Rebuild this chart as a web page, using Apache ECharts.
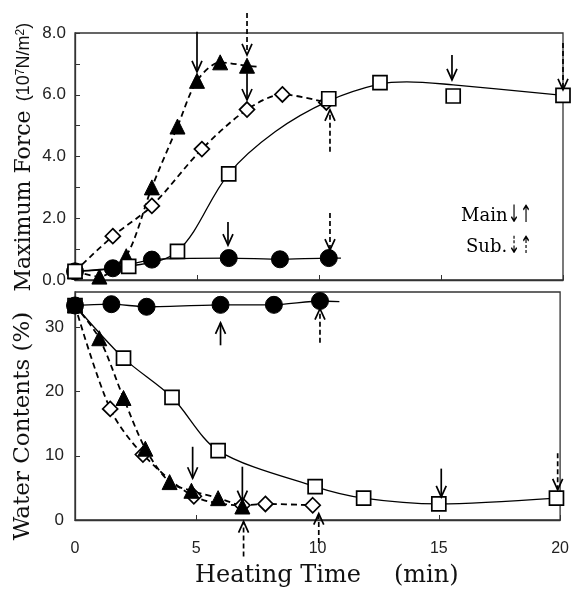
<!DOCTYPE html>
<html>
<head>
<meta charset="utf-8">
<script src="https://cdn.jsdelivr.net/npm/echarts@6/dist/echarts.min.js"></script>
<style>
  html, body { margin: 0; background: #fff; }
  #chart { width: 572px; height: 592px; }
</style>
</head>
<body>
<div id="chart"></div>
<script>
// Top panel: maximum force (10^7 N/m^2) against heating time (min)
const forceCircle = [[0, 0.28], [1.55, 0.38], [3.15, 0.66], [6.3, 0.71], [8.4, 0.67], [10.4, 0.71]];
const forceCircleEnd = [10.9, 0.71];
const forceSquare = [[0, 0.28], [2.2, 0.44], [4.2, 0.93], [6.3, 3.44], [10.4, 5.87], [12.5, 6.39], [15.5, 5.96], [20, 5.98]];
// the drawn fit for the squares (passes above the 15.5 min point)
const forceSquareCurve = [[0, 0.28], [2.2, 0.44], [4.2, 0.93], [6.3, 3.44], [8.2, 4.8], [10.4, 5.8], [12.5, 6.35], [13.6, 6.42], [15.5, 6.32], [20, 5.98]];
const forceTriangle = [[0, 0.28], [1.0, 0.11], [2.1, 0.77], [3.15, 3.0], [4.2, 4.97], [5.0, 6.45], [5.95, 7.05], [7.05, 6.94]];
const forceTriangleEnd = [7.6, 6.9];
const forceDiamond = [[0, 0.28], [1.55, 1.42], [3.15, 2.4], [5.2, 4.24], [7.05, 5.52], [8.5, 6.01], [10.3, 5.75]];

// Bottom panel: water contents (%)
const waterCircle = [[0, 33.4], [1.5, 33.6], [2.95, 33.2], [6.0, 33.5], [8.2, 33.5], [10.1, 34.1]];
const waterCircleEnd = [10.9, 34.0];
const waterSquare = [[0, 33.4], [2.0, 25.2], [4.0, 19.1], [5.9, 10.8], [9.9, 5.2], [11.9, 3.4], [15.0, 2.5], [19.85, 3.4]];
const waterTriangle = [[0, 33.4], [1.0, 28.3], [2.0, 19.0], [2.9, 11.1], [3.9, 5.9], [4.8, 4.55], [5.9, 3.4], [6.9, 2.1]];
const waterDiamond = [[0, 33.4], [1.45, 17.3], [2.8, 10.2], [4.9, 3.7], [6.9, 2.3], [7.85, 2.5], [9.8, 2.3]];

// Arrows: [time, from, to, dashed(1) / solid(0)]
const forceArrows = [
  [5.0, 8.04, 6.74, 0], [7.05, 8.65, 7.29, 1], [7.05, 6.7, 5.83, 0], [6.27, 1.88, 1.13, 0],
  [15.45, 7.29, 6.48, 0], [20, 7.68, 6.16, 1], [10.45, 4.15, 5.51, 1], [10.45, 2.17, 0.97, 1]
];
const waterArrows = [
  [6.0, 27.2, 30.7, 0], [10.1, 27.6, 32.9, 1], [4.85, 11.4, 6.5, 0], [6.9, 8.3, 2.85, 0],
  [6.95, -5.7, -0.26, 1], [10.05, -3.6, 1.0, 1], [15.1, 8.0, 3.6, 0], [19.9, 10.4, 4.7, 1]
];

const xTicks = [0, 5, 10, 15, 20];

const SERIF = 'DejaVu Serif';
const SANS = 'Liberation Sans';

function withEnd(points, end) {
  return points.concat([{ value: end, symbol: 'none' }]);
}

function renderArrow(params, api) {
  const t = api.value(0);
  const p1 = api.coord([t, api.value(1)]);
  const p2 = api.coord([t, api.value(2)]);
  const dashed = api.value(3) === 1;
  const dir = p2[1] > p1[1] ? 1 : -1;
  const head = 11, half = 5;
  return {
    type: 'group',
    children: [
      {
        type: 'line',
        shape: { x1: p1[0], y1: p1[1], x2: p2[0], y2: p2[1] },
        style: { stroke: '#000', lineWidth: 1.7, lineDash: dashed ? [5, 3] : null }
      },
      {
        type: 'polyline',
        shape: { points: [[p2[0] - half, p2[1] - dir * head], [p2[0], p2[1]], [p2[0] + half, p2[1] - dir * head]] },
        style: { stroke: '#000', lineWidth: 1.7, fill: null }
      }
    ]
  };
}

function markerSeries(idx, data, symbol, size, filled, dashed, extra) {
  return Object.assign({
    type: 'line',
    xAxisIndex: idx,
    yAxisIndex: idx,
    data: data,
    symbol: symbol,
    symbolSize: size,
    smooth: 0.3,
    showAllSymbol: true,
    clip: false,
    itemStyle: filled
      ? { color: '#000', borderColor: '#000', borderWidth: 1 }
      : { color: '#fff', borderColor: '#000', borderWidth: 1.7 },
    lineStyle: { color: '#000', width: dashed ? 1.8 : 1.3, type: dashed ? [6, 4] : 'solid' },
    animation: false
  }, extra || {});
}

const axisCommon = {
  type: 'value',
  axisLine: { show: true, lineStyle: { color: '#333', width: 1.3 } },
  axisTick: { show: true, inside: true, length: 5, lineStyle: { color: '#333' } },
  splitLine: { show: false }
};

const chart = echarts.init(document.getElementById('chart'), null, { renderer: 'canvas' });

chart.setOption({
  backgroundColor: '#fff',
  animation: false,
  grid: [
    { left: 75, right: 9, top: 33, height: 247, show: true, borderColor: '#333', borderWidth: 1.3 },
    { left: 75, right: 9, top: 292, height: 228, show: true, borderColor: '#333', borderWidth: 1.3 }
  ],
  xAxis: [
    Object.assign({}, axisCommon, { gridIndex: 0, min: xTicks[0], max: xTicks[xTicks.length - 1], interval: 5, axisLabel: { show: false } }),
    Object.assign({}, axisCommon, {
      gridIndex: 1, min: xTicks[0], max: xTicks[xTicks.length - 1], interval: 5,
      axisLabel: { show: true, color: '#222', fontFamily: SANS, fontSize: 16, margin: 21 }
    })
  ],
  yAxis: [
    Object.assign({}, axisCommon, {
      gridIndex: 0, min: 0, max: 8, interval: 1,
      axisLabel: {
        color: '#222', fontFamily: SANS, fontSize: 17, margin: 9,
        formatter: (v) => (v % 2 === 0 ? v.toFixed(1) : '')
      }
    }),
    Object.assign({}, axisCommon, {
      gridIndex: 1, min: 0, max: 35.5, interval: 10,
      axisLabel: { color: '#222', fontFamily: SANS, fontSize: 17, margin: 11, showMaxLabel: false }
    })
  ],
  series: [
    // top panel
    markerSeries(0, forceSquare, 'rect', 14, false, false, { lineStyle: { opacity: 0 }, z: 4 }),
    markerSeries(0, forceSquareCurve.map((p) => ({ value: p, symbol: 'none' })), 'none', 0, false, false, { smooth: 0.35, z: 2 }),
    markerSeries(0, forceDiamond, 'diamond', 15, false, true),
    markerSeries(0, withEnd(forceTriangle, forceTriangleEnd), 'triangle', 15, true, true),
    markerSeries(0, withEnd(forceCircle, forceCircleEnd), 'circle', 17, true, false, { smooth: 0.2 }),
    // bottom panel
    markerSeries(1, waterSquare, 'rect', 14, false, false),
    markerSeries(1, waterDiamond, 'diamond', 15, false, true),
    markerSeries(1, waterTriangle, 'triangle', 15, true, true),
    markerSeries(1, withEnd(waterCircle, waterCircleEnd), 'circle', 17, true, false, { smooth: 0.2 }),
    // arrows
    { type: 'custom', xAxisIndex: 0, yAxisIndex: 0, data: forceArrows, renderItem: renderArrow, z: 10, clip: false },
    { type: 'custom', xAxisIndex: 1, yAxisIndex: 1, data: waterArrows, renderItem: renderArrow, z: 10, clip: false }
  ],
  graphic: [
    {
      type: 'text', x: 24, y: 201, rotation: Math.PI / 2,
      style: { text: 'Maximum Force', font: '22px "' + SERIF + '"', fill: '#111', align: 'center', verticalAlign: 'middle' }
    },
    {
      type: 'text', x: 24, y: 62, rotation: Math.PI / 2,
      style: {
        text: '(10{s|7}N/m{s|2})',
        font: '18px "' + SANS + '"', fill: '#111', align: 'center', verticalAlign: 'middle',
        rich: { s: { fontSize: 12, fontFamily: SANS, verticalAlign: 'top', fill: '#111' } }
      }
    },
    {
      type: 'text', x: 23, y: 426, rotation: Math.PI / 2,
      style: { text: 'Water Contents (%)', font: '23px "' + SERIF + '"', fill: '#111', align: 'center', verticalAlign: 'middle' }
    },
    {
      type: 'text', x: 195, y: 576,
      style: { text: 'Heating Time', font: '24px "' + SERIF + '"', fill: '#111', align: 'left', verticalAlign: 'middle' }
    },
    {
      type: 'text', x: 394, y: 576,
      style: { text: '(min)', font: '24px "' + SERIF + '"', fill: '#111', align: 'left', verticalAlign: 'middle' }
    },
    {
      type: 'text', x: 461, y: 216,
      style: { text: 'Main', font: '18px "' + SERIF + '"', fill: '#000', align: 'left', verticalAlign: 'middle' }
    },
    {
      type: 'text', x: 508, y: 216, scaleX: 0.6,
      style: { text: '↓↑', font: '24px "DejaVu Sans"', fill: '#000', align: 'left', verticalAlign: 'middle' }
    },
    {
      type: 'text', x: 466, y: 247,
      style: { text: 'Sub.', font: '18px "' + SERIF + '"', fill: '#000', align: 'left', verticalAlign: 'middle' }
    },
    {
      type: 'text', x: 508, y: 247, scaleX: 0.6,
      style: { text: '⇣⇡', font: '24px "DejaVu Sans"', fill: '#000', align: 'left', verticalAlign: 'middle' }
    }
  ]
});
</script>
</body>
</html>
